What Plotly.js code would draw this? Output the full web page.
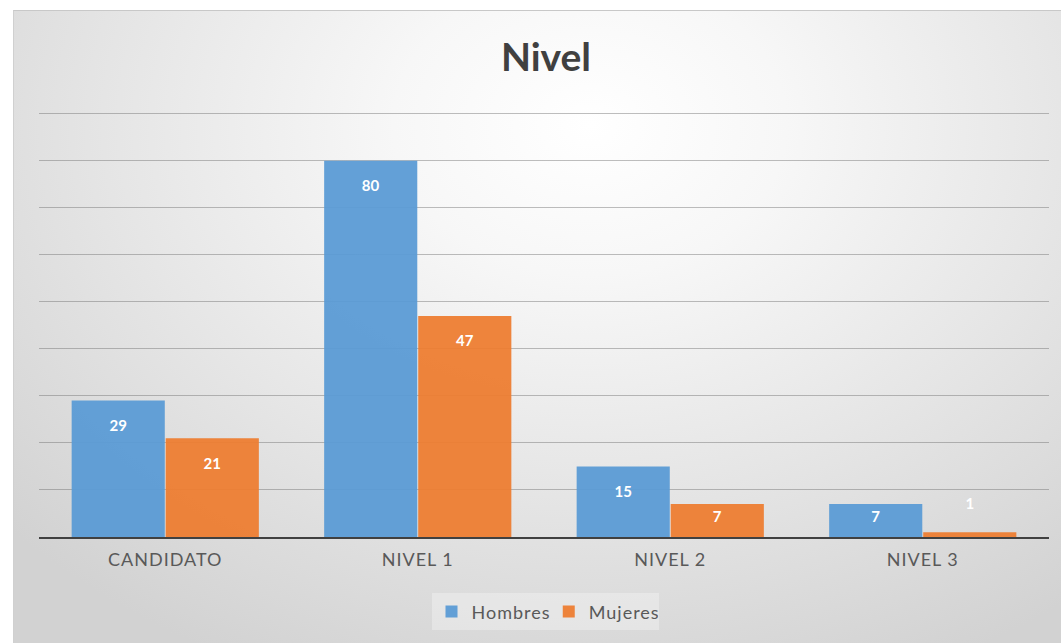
<!DOCTYPE html>
<html>
<head>
<meta charset="utf-8">
<script src="https://cdn.plot.ly/plotly-3.0.1.min.js"></script>
<style>
  html, body { margin: 0; padding: 0; background: #ffffff; width: 1061px; height: 643px; overflow: hidden; }
  #card {
    position: absolute; left: 13px; top: 10px; width: 1048px; height: 633px;
    background: radial-gradient(ellipse 75% 95% at 55% 18%, #ffffff 0%, #f7f7f7 25%, #e6e6e6 60%, #d2d2d2 100%);
    border-top: 1px solid #c8c8c8; border-left: 1px solid #d0d0d0;
    box-sizing: border-box;
  }
  #chart { position: absolute; left: 0; top: 0; width: 1048px; height: 633px; }
  #chart .xtick text, #chart .legendtext { letter-spacing: 1px; }
</style>
</head>
<body>
<div id="card"><div id="chart"></div></div>
<script>
const categories = ["CANDIDATO", "NIVEL 1", "NIVEL 2", "NIVEL 3"];
const hombres = [29, 80, 15, 7];
const mujeres = [21, 47, 7, 1];
const seriesNames = ["Hombres", "Mujeres"];

const labelFont = { family: "Lato, 'Open Sans', sans-serif", size: 15, color: "#ffffff", weight: "bold" };
const spacer = "<span style='font-size:8px'> </span>";
const smallSpacer = "<span style='font-size:3px'> </span>";
function positions(vals) { return vals.map(v => v < 3 ? "outside" : "inside"); }
function templates(vals) {
  return vals.map(v => v < 3 ? "%{text}<br>" + smallSpacer : (v < 10 ? "%{text}" : spacer + "<br>%{text}"));
}

function barTrace(name, vals, color) {
  return {
    type: "bar", name: name, x: categories, y: vals,
    marker: { color: color },
    text: vals.map(String),
    texttemplate: templates(vals),
    textposition: positions(vals), insidetextanchor: "end",
    textangle: 0, constraintext: "none",
    textfont: labelFont, insidetextfont: labelFont, outsidetextfont: labelFont,
    cliponaxis: false, hoverinfo: "x+y+name"
  };
}

const traces = [
  barTrace(seriesNames[0], hombres, "rgba(91,155,213,0.95)"),
  barTrace(seriesNames[1], mujeres, "rgba(237,125,49,0.95)")
];

const layout = {
  width: 1048, height: 633,
  paper_bgcolor: "rgba(0,0,0,0)", plot_bgcolor: "rgba(0,0,0,0)",
  margin: { l: 25, r: 13, t: 98, b: 107 },
  barmode: "group", bargap: 0.255, bargroupgap: 0.01,
  title: {
    text: "Nivel", xref: "container", yref: "container", x: 0.5076, y: 0.926,
    xanchor: "center", yanchor: "middle",
    font: { family: "Lato, 'Open Sans', sans-serif", size: 39, color: "#404040", weight: "bold" }
  },
  xaxis: {
    type: "category", showline: true, linecolor: "#404040", linewidth: 2,
    ticks: "", showgrid: false, zeroline: false, ticklabelstandoff: 5,
    tickfont: { family: "Lato, 'Open Sans', sans-serif", size: 18, color: "#595959" }
  },
  yaxis: {
    range: [0, 91], tickvals: [10, 20, 30, 40, 50, 60, 70, 80, 90], showticklabels: false, ticks: "",
    showgrid: true, gridcolor: "rgba(110,110,110,0.45)", gridwidth: 1,
    zeroline: false, showline: false
  },
  showlegend: true,
  legend: {
    orientation: "h", x: 0.501, xanchor: "center", y: -0.175, yanchor: "middle",
    bgcolor: "rgba(255,255,255,0.3)", borderwidth: 0,
    font: { family: "Lato, 'Open Sans', sans-serif", size: 18, color: "#595959" },
    itemwidth: 30, traceorder: "normal"
  }
};

Plotly.newPlot("chart", traces, layout, { displayModeBar: false, staticPlot: true });
</script>
</body>
</html>
